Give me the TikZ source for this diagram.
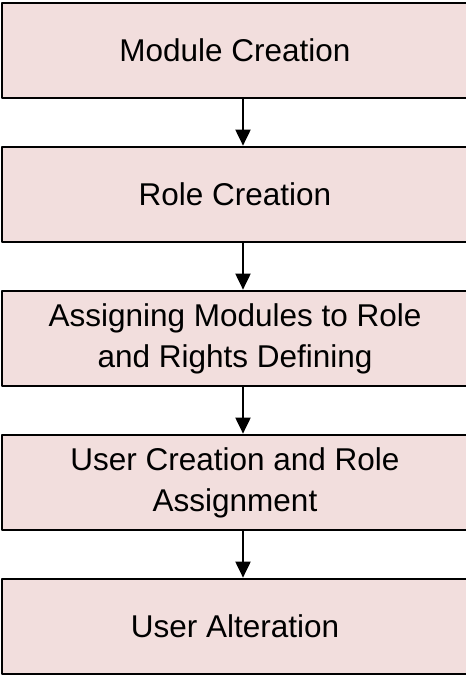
\documentclass[tikz,border=0pt]{standalone}
\usepackage{fontspec}
\setmainfont{Liberation Sans}
\usetikzlibrary{positioning,arrows.meta}
\definecolor{boxpink}{RGB}{242,222,221}
\begin{document}
\begin{tikzpicture}[x=1pt, y=1pt, line join=round, >={Triangle[length=16pt,width=15pt]},
  stepbox/.style={draw=black, line width=2.2pt, fill=boxpink, minimum width=466pt,
    minimum height=95.5pt, align=center, inner sep=0pt,
    font=\fontsize{31.5}{41}\selectfont}]
% Define the parameters
\def\gap{46.3pt}
\def\shift{8pt}
% Frame of the picture
\useasboundingbox (0,0) rectangle (466,675);
\clip (0,0) rectangle (466,675);
% The boxes
\node[stepbox] (module) at (235,624.5) {Module Creation};
\node[stepbox, below=\gap of module] (role) {Role Creation};
\node[stepbox, below=\gap of role] (assign) {Assigning Modules to Role\\and Rights Defining};
\node[stepbox, below=\gap of assign] (user) {User Creation and Role\\Assignment};
\node[stepbox, below=\gap of user] (alter) {User Alteration};
% The arrows
\draw[->, line width=2pt] ([xshift=\shift]module.south) -- ([xshift=\shift]role.north);
\draw[->, line width=2pt] ([xshift=\shift]role.south) -- ([xshift=\shift]assign.north);
\draw[->, line width=2pt] ([xshift=\shift]assign.south) -- ([xshift=\shift]user.north);
\draw[->, line width=2pt] ([xshift=\shift]user.south) -- ([xshift=\shift]alter.north);
\end{tikzpicture}
\end{document}
